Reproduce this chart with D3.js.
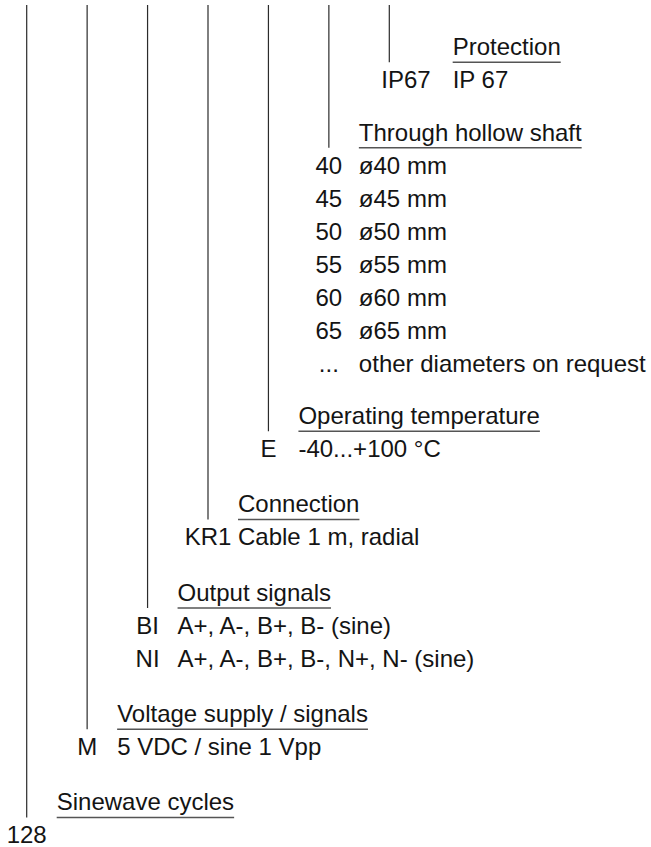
<!DOCTYPE html>
<html>
<head>
<meta charset="utf-8">
<script src="https://cdn.jsdelivr.net/npm/d3@7/dist/d3.min.js"></script>
<style>
  html, body { margin: 0; padding: 0; background: #ffffff; }
  svg { display: block; }
</style>
</head>
<body>
<svg id="chart" width="651" height="847"></svg>
<script>
// ---- Data (ordering code key, left-most position first) ----
const groupTitles = [
  "Sinewave cycles",
  "Voltage supply / signals",
  "Output signals",
  "Connection",
  "Operating temperature",
  "Through hollow shaft",
  "Protection"
];
const groupCodes = [
  ["128"],
  ["M"],
  ["BI", "NI"],
  ["KR1"],
  ["E"],
  ["40", "45", "50", "55", "60", "65", "..."],
  ["IP67"]
];
const groupDescriptions = [
  [""],
  ["5 VDC / sine 1 Vpp"],
  ["A+, A-, B+, B- (sine)", "A+, A-, B+, B-, N+, N- (sine)"],
  ["Cable 1 m, radial"],
  ["-40...+100 °C"],
  ["ø40 mm", "ø45 mm", "ø50 mm", "ø55 mm", "ø60 mm", "ø65 mm", "other diameters on request"],
  ["IP 67"]
];

// ---- Layout ----
const W = 651, H = 847;
const svg = d3.select("#chart");
const fontFamily = "'Liberation Sans', Arial, Helvetica, sans-serif";
const fontSize = 24;
const textColor = "#141414";

const idx = d3.range(groupTitles.length);
const x = d3.scalePoint().domain(idx).range([26.7, 389.3]);

const lineTop = 5;
const firstTitleBaseline = 55;
const titleToUnderline = 7.3;
const titleToFirstItem = 33;
const rowStep = 33;
const groupGaps = [52.5, 52.5, 55.3, 55.3, 55.3, 55.3]; // top-down, after each group

// Top-down order: right-most group at the top
const order = idx.slice().reverse();
const layout = {};
let yCursor = firstTitleBaseline;
order.forEach((g, k) => {
  const titleY = yCursor;
  const underlineY = titleY + titleToUnderline;
  const itemYs = groupCodes[g].map((c, i) => titleY + titleToFirstItem + i * rowStep);
  layout[g] = { titleY, underlineY, itemYs };
  yCursor = itemYs[itemYs.length - 1] + (groupGaps[k] || 55.3);
});

const gAll = svg.append("g");

// vertical leader lines
gAll.selectAll("line.leader")
  .data(idx)
  .join("line")
  .attr("class", "leader")
  .attr("x1", d => x(d)).attr("x2", d => x(d))
  .attr("y1", lineTop)
  .attr("y2", d => layout[d].underlineY)
  .attr("stroke", "#2b2b2b")
  .attr("stroke-width", 1.2);

idx.forEach(g => {
  const L = layout[g];
  const lx = x(g);
  const grp = gAll.append("g");
  const wideCode = g === idx.length - 1; // protection code is wider: placed right of the leader
  // codes
  const codeSel = grp.selectAll("text.code")
    .data(groupCodes[g])
    .join("text")
    .attr("class", "code")
    .attr("font-family", fontFamily)
    .attr("font-size", fontSize)
    .attr("fill", textColor)
    .attr("y", (d, i) => L.itemYs[i])
    .attr("x", wideCode ? lx - 8 : lx)
    .attr("text-anchor", wideCode ? "start" : "middle")
    .text(d => d);

  let descX = lx + 30;
  if (wideCode) {
    const cw = d3.max(codeSel.nodes(), n => n.getComputedTextLength());
    descX = lx - 8 + cw + 22;
  }

  // title
  const title = grp.append("text")
    .attr("font-family", fontFamily)
    .attr("font-size", fontSize)
    .attr("fill", textColor)
    .attr("x", descX)
    .attr("y", L.titleY)
    .text(groupTitles[g]);
  const tw = title.node().getComputedTextLength();

  // underline
  grp.append("line")
    .attr("x1", descX).attr("x2", descX + tw)
    .attr("y1", L.underlineY).attr("y2", L.underlineY)
    .attr("stroke", "#555")
    .attr("stroke-width", 1.5);

  // descriptions
  grp.selectAll("text.desc")
    .data(groupDescriptions[g])
    .join("text")
    .attr("class", "desc")
    .attr("font-family", fontFamily)
    .attr("font-size", fontSize)
    .attr("fill", textColor)
    .attr("x", descX)
    .attr("y", (d, i) => L.itemYs[i])
    .text(d => d);
});
</script>
</body>
</html>
